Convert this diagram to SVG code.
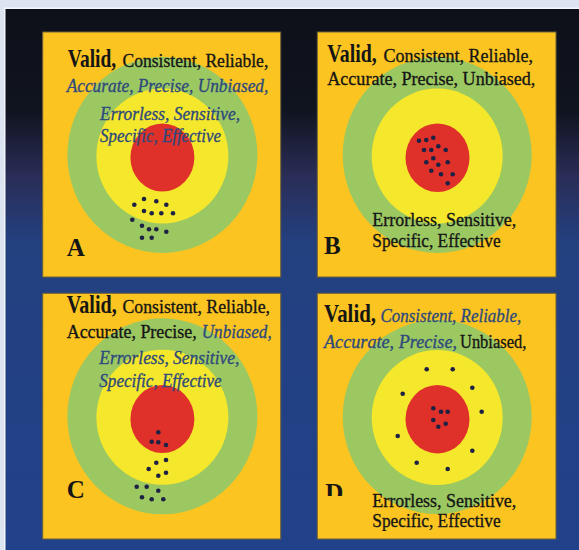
<svg xmlns="http://www.w3.org/2000/svg" width="579" height="550" viewBox="0 0 579 550">
  <defs>
    <linearGradient id="bg" gradientUnits="userSpaceOnUse" x1="0" y1="0" x2="0" y2="550">
      <stop offset="0" stop-color="#0d1018"/>
      <stop offset="0.2" stop-color="#10141f"/>
      <stop offset="0.32" stop-color="#2a2d56"/>
      <stop offset="0.44" stop-color="#23407f"/>
      <stop offset="1" stop-color="#21418a"/>
    </linearGradient>
    <clipPath id="clipA4"><rect x="40" y="100" width="240" height="45.5"/></clipPath>
    <clipPath id="clipDlab"><rect x="318" y="470" width="40" height="26"/></clipPath>
    <clipPath id="clipD4"><rect x="318" y="505" width="230" height="26"/></clipPath>
  </defs>
  <style>
    .panel { fill: #fbc421; stroke: #6e6238; stroke-width: 1; }
    .ring-green { fill: #9cc862; }
    .ring-yellow { fill: #f5e72b; }
    .ring-red { fill: #df312a; }
    .dot { fill: #1d2244; }
    text { font-family: "Liberation Serif", "DejaVu Serif", serif; }
    .valid { font-weight: bold; font-size: 25px; fill: #151515; }
    .plain { font-size: 19.5px; fill: #151515; stroke: #151515; stroke-width: 0.35; }
    .ital { font-size: 19.5px; font-style: italic; fill: #2e4a7c; stroke: #2e4a7c; stroke-width: 0.35; }
    .lab { font-weight: bold; font-size: 25px; fill: #151515; }
  </style>

  <!-- backdrop -->
  <rect x="0" y="0" width="579" height="550" fill="#dce3f1"/>
  <rect x="4" y="7.5" width="575" height="542.5" fill="#f4f6fb"/>
  <rect x="5.5" y="9" width="573.5" height="541" fill="url(#bg)"/>

  <!-- panel A: tight cluster off centre -->
  <g id="panel-a">
    <rect class="panel" x="42.7" y="32" width="238" height="245"/>
    <ellipse class="ring-green" cx="162.4" cy="155" rx="95" ry="98"/>
    <ellipse class="ring-yellow" cx="162.4" cy="156" rx="66" ry="67.5"/>
    <ellipse class="ring-red" cx="162.4" cy="157.5" rx="32" ry="34"/>
    <g>
      <circle class="dot" cx="144" cy="199" r="2.3"/>
      <circle class="dot" cx="156.3" cy="201.3" r="2.3"/>
      <circle class="dot" cx="166.3" cy="204.7" r="2.3"/>
      <circle class="dot" cx="134.3" cy="204.7" r="2.3"/>
      <circle class="dot" cx="144" cy="211" r="2.3"/>
      <circle class="dot" cx="151.7" cy="213.3" r="2.3"/>
      <circle class="dot" cx="161.3" cy="213.3" r="2.3"/>
      <circle class="dot" cx="173" cy="213.3" r="2.3"/>
      <circle class="dot" cx="132.3" cy="219.7" r="2.3"/>
      <circle class="dot" cx="142" cy="225.7" r="2.3"/>
      <circle class="dot" cx="149" cy="229.3" r="2.3"/>
      <circle class="dot" cx="156.3" cy="229.3" r="2.3"/>
      <circle class="dot" cx="166.3" cy="231.7" r="2.3"/>
      <circle class="dot" cx="142" cy="237.7" r="2.3"/>
      <circle class="dot" cx="151.7" cy="237.7" r="2.3"/>
    </g>
    <text class="valid" x="67.7" y="66.7" font-size="24" textLength="48.5" lengthAdjust="spacingAndGlyphs">Valid,</text>
    <text class="plain" x="122.5" y="66.7" textLength="145.8" lengthAdjust="spacingAndGlyphs">Consistent, Reliable,</text>
    <text class="ital" x="66.7" y="91.7" textLength="201.6" lengthAdjust="spacingAndGlyphs">Accurate, Precise, Unbiased,</text>
    <text class="ital" x="100" y="120" textLength="140" lengthAdjust="spacingAndGlyphs">Errorless, Sensitive,</text>
    <text class="ital" x="100" y="141.7" textLength="121" lengthAdjust="spacingAndGlyphs" clip-path="url(#clipA4)">Specific, Effective</text>
    <text class="lab" x="66.7" y="256" font-size="26">A</text>
  </g>

  <!-- panel B: tight cluster on the bullseye -->
  <g id="panel-b">
    <rect class="panel" x="317.3" y="32" width="238.7" height="245"/>
    <ellipse class="ring-green" cx="437.2" cy="155" rx="94.5" ry="98"/>
    <ellipse class="ring-yellow" cx="437.2" cy="156" rx="65.5" ry="67.5"/>
    <ellipse class="ring-red" cx="437.5" cy="157.8" rx="32" ry="34.3"/>
    <g>
      <circle class="dot" cx="419" cy="140.7" r="2.3"/>
      <circle class="dot" cx="426.3" cy="140" r="2.3"/>
      <circle class="dot" cx="433.3" cy="137.7" r="2.3"/>
      <circle class="dot" cx="438.3" cy="146.3" r="2.3"/>
      <circle class="dot" cx="424" cy="150" r="2.3"/>
      <circle class="dot" cx="431.3" cy="150" r="2.3"/>
      <circle class="dot" cx="445.7" cy="150" r="2.3"/>
      <circle class="dot" cx="433.3" cy="158.3" r="2.3"/>
      <circle class="dot" cx="426.3" cy="162.3" r="2.3"/>
      <circle class="dot" cx="438.3" cy="164.7" r="2.3"/>
      <circle class="dot" cx="447.7" cy="162.3" r="2.3"/>
      <circle class="dot" cx="431.3" cy="170.7" r="2.3"/>
      <circle class="dot" cx="441" cy="174.3" r="2.3"/>
      <circle class="dot" cx="452.7" cy="174.3" r="2.3"/>
      <circle class="dot" cx="447.7" cy="183.3" r="2.3"/>
    </g>
    <text class="valid" x="327.3" y="61.5" font-size="26" textLength="49.5" lengthAdjust="spacingAndGlyphs">Valid,</text>
    <text class="plain" x="383.5" y="61.5" textLength="149.5" lengthAdjust="spacingAndGlyphs">Consistent, Reliable,</text>
    <text class="plain" x="327.3" y="85" textLength="208" lengthAdjust="spacingAndGlyphs">Accurate, Precise, Unbiased,</text>
    <text class="plain" x="372.3" y="226" textLength="144" lengthAdjust="spacingAndGlyphs">Errorless, Sensitive,</text>
    <text class="plain" x="372.3" y="246.7" textLength="128.4" lengthAdjust="spacingAndGlyphs">Specific, Effective</text>
    <text class="lab" x="324" y="254">B</text>
  </g>

  <!-- panel C: spread along a line below centre -->
  <g id="panel-c">
    <rect class="panel" x="42.7" y="293.3" width="238" height="245.7"/>
    <ellipse class="ring-green" cx="162.4" cy="416.3" rx="95" ry="98"/>
    <ellipse class="ring-yellow" cx="162.4" cy="417.3" rx="66" ry="67.5"/>
    <ellipse class="ring-red" cx="162.4" cy="419" rx="32" ry="34"/>
    <g>
      <circle class="dot" cx="158.3" cy="432.3" r="2.3"/>
      <circle class="dot" cx="151.7" cy="441.7" r="2.3"/>
      <circle class="dot" cx="158.3" cy="442.3" r="2.3"/>
      <circle class="dot" cx="166" cy="445" r="2.3"/>
      <circle class="dot" cx="166" cy="460" r="2.3"/>
      <circle class="dot" cx="156.3" cy="462.7" r="2.3"/>
      <circle class="dot" cx="148.7" cy="469" r="2.3"/>
      <circle class="dot" cx="158.3" cy="475.7" r="2.3"/>
      <circle class="dot" cx="166" cy="472.7" r="2.3"/>
      <circle class="dot" cx="136.7" cy="486.7" r="2.3"/>
      <circle class="dot" cx="146.7" cy="486.7" r="2.3"/>
      <circle class="dot" cx="158.3" cy="490.7" r="2.3"/>
      <circle class="dot" cx="142" cy="497.3" r="2.3"/>
      <circle class="dot" cx="151.7" cy="499.3" r="2.3"/>
      <circle class="dot" cx="163.3" cy="499.3" r="2.3"/>
    </g>
    <text class="valid" x="66.7" y="313.3" font-size="24" textLength="50" lengthAdjust="spacingAndGlyphs">Valid,</text>
    <text class="plain" x="122.5" y="313.3" textLength="147.5" lengthAdjust="spacingAndGlyphs">Consistent, Reliable,</text>
    <text class="plain" x="66.7" y="337.7" textLength="130" lengthAdjust="spacingAndGlyphs">Accurate, Precise,</text>
    <text class="ital" x="201.7" y="337.7" textLength="70" lengthAdjust="spacingAndGlyphs">Unbiased,</text>
    <text class="ital" x="99.3" y="364.3" textLength="140" lengthAdjust="spacingAndGlyphs">Errorless, Sensitive,</text>
    <text class="ital" x="99.3" y="386.7" textLength="122.4" lengthAdjust="spacingAndGlyphs">Specific, Effective</text>
    <text class="lab" x="66.7" y="498.3" font-size="23">C</text>
  </g>

  <!-- panel D: centred cluster with scattered outliers -->
  <g id="panel-d">
    <rect class="panel" x="317.3" y="293.3" width="238.7" height="245.7"/>
    <ellipse class="ring-green" cx="437.2" cy="417" rx="94.5" ry="97"/>
    <ellipse class="ring-yellow" cx="437.2" cy="417.5" rx="65.5" ry="67.5"/>
    <ellipse class="ring-red" cx="437.5" cy="419.2" rx="32" ry="34.2"/>
    <g>
      <circle class="dot" cx="426.7" cy="369.3" r="2.3"/>
      <circle class="dot" cx="452.7" cy="369.3" r="2.3"/>
      <circle class="dot" cx="472.3" cy="387.7" r="2.3"/>
      <circle class="dot" cx="402.7" cy="393.7" r="2.3"/>
      <circle class="dot" cx="481.7" cy="411.7" r="2.3"/>
      <circle class="dot" cx="433.3" cy="408.3" r="2.3"/>
      <circle class="dot" cx="441" cy="411.7" r="2.3"/>
      <circle class="dot" cx="447.7" cy="411.7" r="2.3"/>
      <circle class="dot" cx="433.3" cy="420" r="2.3"/>
      <circle class="dot" cx="445.7" cy="423.7" r="2.3"/>
      <circle class="dot" cx="438.3" cy="426.7" r="2.3"/>
      <circle class="dot" cx="397.7" cy="436" r="2.3"/>
      <circle class="dot" cx="472.3" cy="450.7" r="2.3"/>
      <circle class="dot" cx="416.7" cy="462.7" r="2.3"/>
      <circle class="dot" cx="447.7" cy="469" r="2.3"/>
    </g>
    <text class="valid" x="324" y="322.3" textLength="52" lengthAdjust="spacingAndGlyphs">Valid,</text>
    <text class="ital" x="380.5" y="322.3" textLength="140.8" lengthAdjust="spacingAndGlyphs">Consistent, Reliable,</text>
    <text class="ital" x="324" y="348.3" textLength="133" lengthAdjust="spacingAndGlyphs">Accurate, Precise,</text>
    <text class="plain" x="460" y="348.3" textLength="66.3" lengthAdjust="spacingAndGlyphs">Unbiased,</text>
    <text class="plain" x="372.3" y="506.7" textLength="144" lengthAdjust="spacingAndGlyphs">Errorless, Sensitive,</text>
    <text class="plain" x="372.3" y="526.7" textLength="128.4" lengthAdjust="spacingAndGlyphs" clip-path="url(#clipD4)">Specific, Effective</text>
    <text class="lab" x="325.3" y="500.5" clip-path="url(#clipDlab)">D</text>
  </g>
</svg>
